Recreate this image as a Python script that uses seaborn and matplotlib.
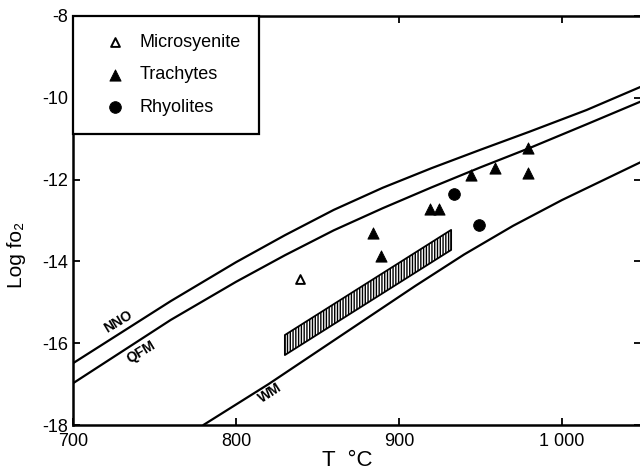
import matplotlib
matplotlib.use("Agg")
import matplotlib.pyplot as plt
import seaborn as sns

# buffer curves (T in degC, log fO2)
nno_t = [700, 760, 800, 830, 860, 890, 920, 950, 980, 1015, 1049]
nno_log = [-16.49, -14.97, -14.02, -13.36, -12.74, -12.20, -11.72, -11.27,
           -10.83, -10.30, -9.72]
qfm_t = [700, 760, 800, 830, 860, 890, 920, 950, 980, 1015, 1049]
qfm_log = [-16.98, -15.43, -14.50, -13.85, -13.24, -12.70, -12.19, -11.70,
           -11.23, -10.65, -10.08]
wm_t = [780, 820, 850, 880, 910, 940, 970, 1000, 1049]
wm_log = [-18.00, -17.00, -16.20, -15.40, -14.60, -13.83, -13.13, -12.50, -11.56]

# hatched field
band_t = [830, 932]
band_lower = [-16.29, -13.72]
band_upper = [-15.80, -13.23]

# samples
micro_t = [839]
micro_log = [-14.43]
trach_t = [884, 889, 919, 924.5, 944, 959, 979, 979]
trach_log = [-13.31, -13.88, -12.72, -12.72, -11.89, -11.72, -11.23, -11.85]
rhyo_t = [934, 949]
rhyo_log = [-12.34, -13.11]

x_ticks = [700, 800, 900, 1000]
x_tick_labels = ["700", "800", "900", "1 000"]
y_ticks = [-8, -10, -12, -14, -16, -18]

sns.set_style("ticks", {"axes.edgecolor": "black", "text.color": "black",
                        "xtick.color": "black", "ytick.color": "black",
                        "axes.labelcolor": "black"})
plt.rcParams["font.family"] = ["Liberation Sans", "DejaVu Sans"]
plt.rcParams["axes.unicode_minus"] = False

fig = plt.figure(figsize=(6.4, 4.75), dpi=100)
ax = fig.add_axes([73 / 640, 50 / 475, 568 / 640, 409 / 475])

for t, v in [(nno_t, nno_log), (qfm_t, qfm_log), (wm_t, wm_log)]:
    sns.lineplot(x=t, y=v, ax=ax, color="black", linewidth=1.6, sort=True)

ax.fill_between(band_t, band_lower, band_upper, facecolor="white",
                edgecolor="black", hatch="||||||", linewidth=1.3)

sns.scatterplot(x=micro_t, y=micro_log, ax=ax, marker="^", s=40,
                facecolor="white", edgecolor="black", linewidth=1.4,
                label="Microsyenite")
sns.scatterplot(x=trach_t, y=trach_log, ax=ax, marker="^", s=65,
                color="black", edgecolor="black", label="Trachytes")
sns.scatterplot(x=rhyo_t, y=rhyo_log, ax=ax, marker="o", s=70,
                color="black", edgecolor="black", label="Rhyolites")

ax.text(727.6, -15.47, "NNO", rotation=31, ha="center", va="center",
        fontsize=10, fontweight="bold")
ax.text(741.9, -16.21, "QFM", rotation=31, ha="center", va="center",
        fontsize=10, fontweight="bold")
ax.text(820.7, -17.22, "WM", rotation=33, ha="center", va="center",
        fontsize=10, fontweight="bold")

ax.set_xlim(700, 1048.5)
ax.set_ylim(-18, -8)
ax.set_xticks(x_ticks)
ax.set_xticklabels(x_tick_labels)
ax.set_yticks(y_ticks)
ax.tick_params(direction="in", top=True, right=True, length=5, width=1.3,
               labelsize=13, colors="black")
ax.tick_params(axis="x", pad=6)
for side in ["left", "bottom", "top", "right"]:
    ax.spines[side].set_linewidth(1.8)
    ax.spines[side].set_color("black")

ax.set_xlabel("T  °C", fontsize=16, color="black")
ax.xaxis.set_label_coords(0.482, -0.06)
ax.set_ylabel("Log fo₂", fontsize=15, color="black")
ax.yaxis.set_label_coords(-0.083, 0.415)

leg = ax.legend(loc="upper left", bbox_to_anchor=(0, 1), fontsize=13,
                frameon=True, fancybox=False, framealpha=1, edgecolor="black",
                borderpad=1.0, labelspacing=0.85, handlelength=2.7,
                handletextpad=0.0, borderaxespad=0, labelcolor="black")
leg.get_frame().set_linewidth(1.6)

fig.savefig("out.png", dpi=100)
